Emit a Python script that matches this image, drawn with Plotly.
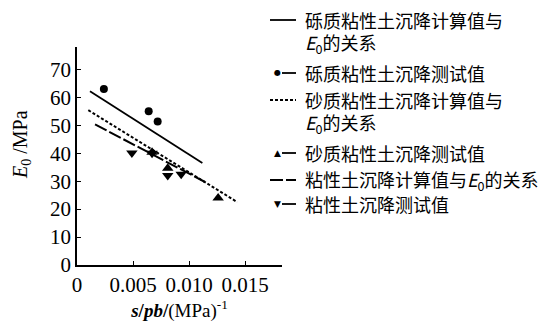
import plotly.graph_objects as go

# ---- data ----
gravel_x = [0.0024, 0.0064, 0.0072]
gravel_y = [63, 55, 51.3]
sand_x = [0.0067, 0.0081, 0.0126]
sand_y = [40.3, 34.6, 24.0]
clay_x = [0.0049, 0.0067, 0.0081, 0.0093]
clay_y = [40.1, 40.0, 32.0, 32.5]
gravel_fit_x = [0.00116, 0.01119]
gravel_fit_y = [62.2, 36.5]
sand_fit_x = [0.00101, 0.01431]
sand_fit_y = [55.4, 22.5]
clay_fit_x = [0.00161, 0.01143]
clay_fit_y = [50.3, 29.7]

x_ticks = [0, 0.005, 0.010, 0.015]
x_ticklabels = ["0", "0.005", "0.010", "0.015"]
y_ticks = [0, 10, 20, 30, 40, 50, 60, 70]

legend_labels = [
    ["砾质粘性土沉降计算值与", "<i>E</i><sub>0</sub>的关系"],
    ["砾质粘性土沉降测试值"],
    ["砂质粘性土沉降计算值与", "<i>E</i><sub>0</sub>的关系"],
    ["砂质粘性土沉降测试值"],
    ["粘性土沉降计算值与<i>E</i><sub>0</sub>的关系"],
    ["粘性土沉降测试值"],
]

W, H = 552, 328
L, R, T, B = 77, 282, 47, 265

def px(xp):
    return (xp - L) / (R - L)

def py(yp):
    return (B - yp) / (B - T)

fig = go.Figure()
fig.add_trace(go.Scatter(x=gravel_fit_x, y=gravel_fit_y, mode="lines",
                         line=dict(color="black", width=1.8), showlegend=False))
fig.add_trace(go.Scatter(x=sand_fit_x, y=sand_fit_y, mode="lines",
                         line=dict(color="black", width=2, dash="3px,2px"), showlegend=False))
fig.add_trace(go.Scatter(x=clay_fit_x, y=clay_fit_y, mode="lines",
                         line=dict(color="black", width=2, dash="13px,3px"), showlegend=False))
fig.add_trace(go.Scatter(x=gravel_x, y=gravel_y, mode="markers",
                         marker=dict(symbol="circle", size=8, color="black"), showlegend=False))
fig.add_trace(go.Scatter(x=sand_x, y=sand_y, mode="markers",
                         marker=dict(symbol="triangle-up", size=10, color="black"), showlegend=False))
fig.add_trace(go.Scatter(x=clay_x, y=clay_y, mode="markers",
                         marker=dict(symbol="triangle-down", size=10, color="black"), showlegend=False))

cjk = "Noto Sans CJK SC"
serif = "Liberation Serif"

# ---- manual legend ----
rows = [20, 73, 100, 153, 180, 204]
line_gap = 23
line_styles = [("solid", 1.8), None, ("3px,2px", 2), None, ("13px,3px", 2), None]
glyphs = [None, "●", None, "▲", None, "▼"]
shapes = []
annotations = []
for i, lab in enumerate(legend_labels):
    yrow = rows[i]
    if line_styles[i] is not None:
        d, w = line_styles[i]
        shapes.append(dict(type="line", xref="paper", yref="paper",
                           x0=px(270), x1=px(296), y0=py(yrow), y1=py(yrow),
                           line=dict(color="black", width=w, dash=d)))
    else:
        shapes.append(dict(type="line", xref="paper", yref="paper",
                           x0=px(282), x1=px(296), y0=py(yrow), y1=py(yrow),
                           line=dict(color="black", width=1.8)))
        annotations.append(dict(text=glyphs[i], xref="paper", yref="paper",
                                x=px(277), y=py(yrow), xanchor="center", yanchor="middle",
                                showarrow=False,
                                font=dict(family="DejaVu Sans", size=8 if i == 1 else 9, color="black")))
    for k, part in enumerate(lab):
        annotations.append(dict(text=part, xref="paper", yref="paper",
                                x=px(303), y=py(yrow + k * line_gap), xanchor="left", yanchor="middle",
                                align="left", showarrow=False,
                                font=dict(family=cjk, size=18, color="black")))

# y axis title placed to match reference position
annotations.append(dict(text="<i>E</i><sub>0</sub> /MPa", xref="paper", yref="paper",
                        x=px(21), y=py(144), xanchor="center", yanchor="middle",
                        textangle=-90, showarrow=False,
                        font=dict(family=serif, size=20, color="black")))

fig.update_layout(
    width=W, height=H,
    margin=dict(l=L, r=W - R, t=T, b=H - B),
    paper_bgcolor="white", plot_bgcolor="white",
    shapes=shapes, annotations=annotations,
    xaxis=dict(range=[0, 0.0183], tickvals=x_ticks, ticktext=x_ticklabels,
               ticks="inside", ticklen=4, tickcolor="black", showline=True,
               linecolor="black", linewidth=1.5, showgrid=False, zeroline=False,
               tickfont=dict(family=serif, size=21, color="black"),
               title=dict(text="<b><i>s</i>/<i>pb</i>/</b>(MPa)<sup>-1</sup>",
                          font=dict(family=serif, size=19, color="black"), standoff=6)),
    yaxis=dict(range=[0, 78], tickvals=y_ticks,
               ticks="inside", ticklen=4, tickcolor="black", showline=True,
               linecolor="black", linewidth=1.5, showgrid=False, zeroline=False,
               tickfont=dict(family=serif, size=21, color="black")),
)

fig.write_html("out.html")
